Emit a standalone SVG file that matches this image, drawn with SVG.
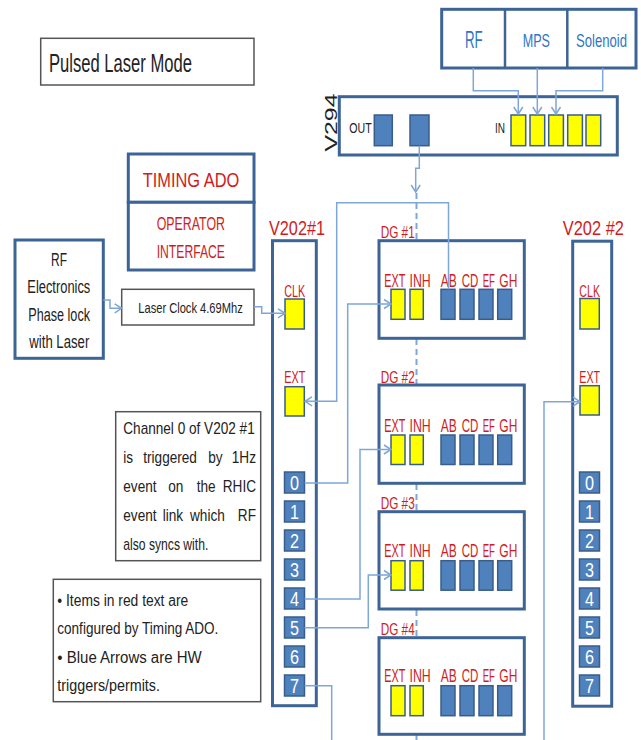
<svg xmlns="http://www.w3.org/2000/svg" width="641" height="740" viewBox="0 0 641 740">
<style>
.box{fill:#fff;stroke:#3d6496;stroke-width:3}
.nbox{fill:#fff;stroke:#555;stroke-width:1.5}
.blu{fill:#4f81bd;stroke:#385d8a;stroke-width:1.5}
.yel{fill:#ffff00;stroke:#385d8a;stroke-width:1.5}
.con{fill:none;stroke:#7ea6d8;stroke-width:1.5}
.dash{fill:none;stroke:#7ea6d8;stroke-width:2;stroke-dasharray:6 4}
text{font-family:"Liberation Sans",Arial,sans-serif}
.red{fill:#d01c1c}
.blk{fill:#222}
.bt{fill:#2e75c6}
.dig{fill:#fff;font-size:20px}
.lab{font-size:18px}
.cl{font-size:17px}
.dg{font-size:16px}
.nt{font-size:16px;fill:#222}
.e{text-anchor:end}
</style>
<defs>
<marker id="ah" markerUnits="userSpaceOnUse" markerWidth="12" markerHeight="12" viewBox="-10 -6 12 12" refX="0" refY="0" orient="auto">
<path d="M-7,-4.5 L0,0 L-7,4.5" fill="none" stroke="#7ea6d8" stroke-width="1.5"/>
</marker>
</defs>

<g id="title">
<rect x="40.7" y="38.3" width="213.3" height="46.7" class="nbox"/>
<text x="49" y="71.7" font-size="25" textLength="143" lengthAdjust="spacingAndGlyphs" class="blk">Pulsed Laser Mode</text>
</g>

<g id="sources">
<rect x="441.7" y="9.3" width="194.3" height="58.7" class="box"/>
<line x1="505" y1="9.3" x2="505" y2="68" stroke="#3d6496" stroke-width="2.5"/>
<line x1="567.3" y1="9.3" x2="567.3" y2="68" stroke="#3d6496" stroke-width="2.5"/>
<text x="465" y="48.3" font-size="23" textLength="17.7" lengthAdjust="spacingAndGlyphs" class="bt">RF</text>
<text x="522.7" y="46.7" font-size="18.5" textLength="27.3" lengthAdjust="spacingAndGlyphs" class="bt">MPS</text>
<text x="576" y="46.7" font-size="18.5" textLength="51" lengthAdjust="spacingAndGlyphs" class="bt">Solenoid</text>
</g>

<g id="v294">
<rect x="339.3" y="96.7" width="278" height="58.3" class="box"/>
<text transform="translate(336.7,122.5) rotate(-90)" text-anchor="middle" font-size="16.5" textLength="58" lengthAdjust="spacingAndGlyphs" class="blk">V294</text>
<text x="349.3" y="132.7" font-size="15" textLength="22.4" lengthAdjust="spacingAndGlyphs" class="blk">OUT</text>
<rect x="374.3" y="115" width="18" height="30.7" class="blu"/>
<rect x="410" y="115" width="19" height="30.7" class="blu"/>
<text x="495" y="132.7" font-size="15" textLength="10" lengthAdjust="spacingAndGlyphs" class="blk">IN</text>
<rect x="511" y="115" width="14.7" height="30.7" class="yel"/>
<rect x="530" y="115" width="14.7" height="30.7" class="yel"/>
<rect x="548.7" y="115" width="14.7" height="30.7" class="yel"/>
<rect x="567.7" y="115" width="14.7" height="30.7" class="yel"/>
<rect x="586" y="115" width="14.7" height="30.7" class="yel"/>
</g>

<g id="timing-ado">
<rect x="128.3" y="154" width="125.7" height="48.3" class="box"/>
<rect x="128.3" y="202.3" width="125.7" height="67.7" class="box"/>
<text x="142.7" y="186.7" font-size="21" textLength="96.6" lengthAdjust="spacingAndGlyphs" class="red">TIMING ADO</text>
<text x="156.7" y="230" font-size="18.5" textLength="68.3" lengthAdjust="spacingAndGlyphs" class="red">OPERATOR</text>
<text x="156.7" y="258.3" font-size="18.5" textLength="68.3" lengthAdjust="spacingAndGlyphs" class="red">INTERFACE</text>
</g>

<g id="rf-electronics">
<rect x="15" y="240" width="88.3" height="118.3" class="box"/>
<text x="51" y="266" font-size="17.5" textLength="16" lengthAdjust="spacingAndGlyphs" class="blk">RF</text>
<text x="27.3" y="293.3" font-size="17.5" textLength="63" lengthAdjust="spacingAndGlyphs" class="blk">Electronics</text>
<text x="28.3" y="321" font-size="17.5" textLength="61.7" lengthAdjust="spacingAndGlyphs" class="blk">Phase lock</text>
<text x="29.3" y="348.3" font-size="17.5" textLength="60" lengthAdjust="spacingAndGlyphs" class="blk">with Laser</text>
</g>

<g id="laser-clock">
<rect x="121.7" y="289.3" width="132.3" height="35.7" class="nbox"/>
<text x="138.3" y="313.3" font-size="14.5" textLength="104.4" lengthAdjust="spacingAndGlyphs" class="blk">Laser Clock 4.69Mhz</text>
</g>

<g id="v202-1">
<rect x="272.5" y="240.7" width="43.8" height="465" class="box"/>
<text x="269" y="235" font-size="21" textLength="56" lengthAdjust="spacingAndGlyphs" class="red">V202#1</text>
<text x="284.3" y="296.7" textLength="21" lengthAdjust="spacingAndGlyphs" class="red cl">CLK</text>
<rect x="285" y="299" width="19.3" height="30" class="yel"/>
<text x="284.3" y="383.3" textLength="21" lengthAdjust="spacingAndGlyphs" class="red cl">EXT</text>
<rect x="285" y="386.7" width="19.3" height="29.3" class="yel"/>
<rect x="284.5" y="472" width="20" height="21" class="blu"/>
<rect x="284.5" y="501" width="20" height="21" class="blu"/>
<rect x="284.5" y="530" width="20" height="21" class="blu"/>
<rect x="284.5" y="559" width="20" height="21" class="blu"/>
<rect x="284.5" y="588" width="20" height="21" class="blu"/>
<rect x="284.5" y="617" width="20" height="21" class="blu"/>
<rect x="284.5" y="646" width="20" height="21" class="blu"/>
<rect x="284.5" y="675" width="20" height="21" class="blu"/>
<text x="290" y="490" textLength="9" lengthAdjust="spacingAndGlyphs" class="dig">0</text>
<text x="290" y="519" textLength="9" lengthAdjust="spacingAndGlyphs" class="dig">1</text>
<text x="290" y="548" textLength="9" lengthAdjust="spacingAndGlyphs" class="dig">2</text>
<text x="290" y="577" textLength="9" lengthAdjust="spacingAndGlyphs" class="dig">3</text>
<text x="290" y="606" textLength="9" lengthAdjust="spacingAndGlyphs" class="dig">4</text>
<text x="290" y="635" textLength="9" lengthAdjust="spacingAndGlyphs" class="dig">5</text>
<text x="290" y="664" textLength="9" lengthAdjust="spacingAndGlyphs" class="dig">6</text>
<text x="290" y="693" textLength="9" lengthAdjust="spacingAndGlyphs" class="dig">7</text>
</g>

<g id="v202-2">
<rect x="572.7" y="241.2" width="39" height="465" class="box"/>
<text x="562.7" y="235" font-size="21" textLength="61.3" lengthAdjust="spacingAndGlyphs" class="red">V202 #2</text>
<text x="579.3" y="296.7" textLength="20.7" lengthAdjust="spacingAndGlyphs" class="red cl">CLK</text>
<rect x="580" y="298.5" width="19.3" height="30.5" class="yel"/>
<text x="579.3" y="383.3" textLength="20.7" lengthAdjust="spacingAndGlyphs" class="red cl">EXT</text>
<rect x="580" y="385.7" width="19.3" height="29.3" class="yel"/>
<rect x="579.5" y="472" width="20" height="21" class="blu"/>
<rect x="579.5" y="501" width="20" height="21" class="blu"/>
<rect x="579.5" y="530" width="20" height="21" class="blu"/>
<rect x="579.5" y="559" width="20" height="21" class="blu"/>
<rect x="579.5" y="588" width="20" height="21" class="blu"/>
<rect x="579.5" y="617" width="20" height="21" class="blu"/>
<rect x="579.5" y="646" width="20" height="21" class="blu"/>
<rect x="579.5" y="675" width="20" height="21" class="blu"/>
<text x="585" y="490" textLength="9" lengthAdjust="spacingAndGlyphs" class="dig">0</text>
<text x="585" y="519" textLength="9" lengthAdjust="spacingAndGlyphs" class="dig">1</text>
<text x="585" y="548" textLength="9" lengthAdjust="spacingAndGlyphs" class="dig">2</text>
<text x="585" y="577" textLength="9" lengthAdjust="spacingAndGlyphs" class="dig">3</text>
<text x="585" y="606" textLength="9" lengthAdjust="spacingAndGlyphs" class="dig">4</text>
<text x="585" y="635" textLength="9" lengthAdjust="spacingAndGlyphs" class="dig">5</text>
<text x="585" y="664" textLength="9" lengthAdjust="spacingAndGlyphs" class="dig">6</text>
<text x="585" y="693" textLength="9" lengthAdjust="spacingAndGlyphs" class="dig">7</text>
</g>

<g id="dg-spine">
<line x1="416.5" y1="193" x2="416.5" y2="240" class="dash"/>
<line x1="416.5" y1="339" x2="416.5" y2="384" class="dash"/>
<line x1="416.5" y1="484" x2="416.5" y2="511" class="dash"/>
<line x1="416.5" y1="610" x2="416.5" y2="637" class="dash"/>
<line x1="416.5" y1="735" x2="416.5" y2="740" class="dash"/>
</g>

<g id="dg1">
<text x="380.7" y="238" textLength="34" lengthAdjust="spacingAndGlyphs" class="red dg">DG #1</text>
<rect x="379" y="240.7" width="145.3" height="97.6" class="box"/>
<text x="384.3" y="286.7" textLength="21" lengthAdjust="spacingAndGlyphs" class="red lab">EXT</text>
<text x="409.5" y="286.7" textLength="21.2" lengthAdjust="spacingAndGlyphs" class="red lab">INH</text>
<text x="440.7" y="286.7" textLength="16" lengthAdjust="spacingAndGlyphs" class="red lab">AB</text>
<text x="461.7" y="286.7" textLength="16.6" lengthAdjust="spacingAndGlyphs" class="red lab">CD</text>
<text x="482.7" y="286.7" textLength="12.3" lengthAdjust="spacingAndGlyphs" class="red lab">EF</text>
<text x="499.3" y="286.7" textLength="18" lengthAdjust="spacingAndGlyphs" class="red lab">GH</text>
<rect x="391" y="289.3" width="14" height="30" class="yel"/>
<rect x="410" y="289.3" width="13.3" height="30" class="yel"/>
<rect x="441" y="289.3" width="14" height="30" class="blu"/>
<rect x="460" y="289.3" width="14" height="30" class="blu"/>
<rect x="479" y="289.3" width="14" height="30" class="blu"/>
<rect x="497.7" y="289.3" width="14" height="30" class="blu"/>
</g>

<g id="dg2">
<text x="380.7" y="383.3" textLength="34" lengthAdjust="spacingAndGlyphs" class="red dg">DG #2</text>
<rect x="379" y="385" width="145.3" height="98.3" class="box"/>
<text x="384.3" y="431.7" textLength="21" lengthAdjust="spacingAndGlyphs" class="red lab">EXT</text>
<text x="409.5" y="431.7" textLength="21.2" lengthAdjust="spacingAndGlyphs" class="red lab">INH</text>
<text x="440.7" y="431.7" textLength="16" lengthAdjust="spacingAndGlyphs" class="red lab">AB</text>
<text x="461.7" y="431.7" textLength="16.6" lengthAdjust="spacingAndGlyphs" class="red lab">CD</text>
<text x="482.7" y="431.7" textLength="12.3" lengthAdjust="spacingAndGlyphs" class="red lab">EF</text>
<text x="499.3" y="431.7" textLength="18" lengthAdjust="spacingAndGlyphs" class="red lab">GH</text>
<rect x="391" y="435" width="14" height="29.5" class="yel"/>
<rect x="410" y="435" width="13.3" height="29.5" class="yel"/>
<rect x="441" y="435" width="14" height="29.5" class="blu"/>
<rect x="460" y="435" width="14" height="29.5" class="blu"/>
<rect x="479" y="435" width="14" height="29.5" class="blu"/>
<rect x="497.7" y="435" width="14" height="29.5" class="blu"/>
</g>

<g id="dg3">
<text x="380.7" y="509" textLength="34" lengthAdjust="spacingAndGlyphs" class="red dg">DG #3</text>
<rect x="379" y="511.7" width="145.3" height="97.3" class="box"/>
<text x="384.3" y="556.7" textLength="21" lengthAdjust="spacingAndGlyphs" class="red lab">EXT</text>
<text x="409.5" y="556.7" textLength="21.2" lengthAdjust="spacingAndGlyphs" class="red lab">INH</text>
<text x="440.7" y="556.7" textLength="16" lengthAdjust="spacingAndGlyphs" class="red lab">AB</text>
<text x="461.7" y="556.7" textLength="16.6" lengthAdjust="spacingAndGlyphs" class="red lab">CD</text>
<text x="482.7" y="556.7" textLength="12.3" lengthAdjust="spacingAndGlyphs" class="red lab">EF</text>
<text x="499.3" y="556.7" textLength="18" lengthAdjust="spacingAndGlyphs" class="red lab">GH</text>
<rect x="391" y="560.7" width="14" height="29.5" class="yel"/>
<rect x="410" y="560.7" width="13.3" height="29.5" class="yel"/>
<rect x="441" y="560.7" width="14" height="29.5" class="blu"/>
<rect x="460" y="560.7" width="14" height="29.5" class="blu"/>
<rect x="479" y="560.7" width="14" height="29.5" class="blu"/>
<rect x="497.7" y="560.7" width="14" height="29.5" class="blu"/>
</g>

<g id="dg4">
<text x="380.7" y="635" textLength="34" lengthAdjust="spacingAndGlyphs" class="red dg">DG #4</text>
<rect x="379" y="637.7" width="145.3" height="96.6" class="box"/>
<text x="384.3" y="682.3" textLength="21" lengthAdjust="spacingAndGlyphs" class="red lab">EXT</text>
<text x="409.5" y="682.3" textLength="21.2" lengthAdjust="spacingAndGlyphs" class="red lab">INH</text>
<text x="440.7" y="682.3" textLength="16" lengthAdjust="spacingAndGlyphs" class="red lab">AB</text>
<text x="461.7" y="682.3" textLength="16.6" lengthAdjust="spacingAndGlyphs" class="red lab">CD</text>
<text x="482.7" y="682.3" textLength="12.3" lengthAdjust="spacingAndGlyphs" class="red lab">EF</text>
<text x="499.3" y="682.3" textLength="18" lengthAdjust="spacingAndGlyphs" class="red lab">GH</text>
<rect x="391" y="685.7" width="14" height="30" class="yel"/>
<rect x="410" y="685.7" width="13.3" height="30" class="yel"/>
<rect x="441" y="685.7" width="14" height="30" class="blu"/>
<rect x="460" y="685.7" width="14" height="30" class="blu"/>
<rect x="479" y="685.7" width="14" height="30" class="blu"/>
<rect x="497.7" y="685.7" width="14" height="30" class="blu"/>
</g>

<g id="note-channel0">
<rect x="115.7" y="411.7" width="145" height="149" class="nbox"/>
<g transform="translate(123.3 0) scale(0.85 1)">
<text y="434" class="nt" x="0">Channel 0 of V202 #1</text>
<text y="463.3" class="nt" x="0">is</text>
<text y="463.3" class="nt" x="23.5">triggered</text>
<text y="463.3" class="nt" x="100">by</text>
<text y="463.3" class="nt e" x="156.1">1Hz</text>
<text y="492" class="nt" x="0">event</text>
<text y="492" class="nt" x="52.9">on</text>
<text y="492" class="nt" x="86.4">the</text>
<text y="492" class="nt e" x="156.1">RHIC</text>
<text y="521.5" class="nt" x="0">event</text>
<text y="521.5" class="nt" x="46.4">link</text>
<text y="521.5" class="nt" x="78.5">which</text>
<text y="521.5" class="nt e" x="156.1">RF</text>
<text y="550" class="nt" x="0" textLength="100" lengthAdjust="spacingAndGlyphs">also syncs with.</text>
</g>
</g>

<g id="note-legend">
<rect x="53.3" y="579.3" width="207.4" height="122.4" class="nbox"/>
<text x="57.3" y="606" class="nt" textLength="131" lengthAdjust="spacingAndGlyphs">• Items in red text are</text>
<text x="57.3" y="634.3" class="nt" textLength="161" lengthAdjust="spacingAndGlyphs">configured by Timing ADO.</text>
<text x="57.3" y="662.7" class="nt" textLength="144.4" lengthAdjust="spacingAndGlyphs">• Blue Arrows are HW</text>
<text x="57.3" y="691" class="nt" textLength="102.7" lengthAdjust="spacingAndGlyphs">triggers/permits.</text>
</g>

<g id="connectors">
<path d="M473.3,68 V90.7 H518.3 V114" class="con" marker-end="url(#ah)"/>
<path d="M537.3,68 V114" class="con" marker-end="url(#ah)"/>
<path d="M602.7,68 V90.7 H556 V114" class="con" marker-end="url(#ah)"/>
<path d="M419.3,145.7 V168.3 H415.7 V192" class="con" marker-end="url(#ah)"/>
<path d="M103.3,300 H110 V308.3 H121.7" class="con" marker-end="url(#ah)"/>
<path d="M254,306.7 H261.7 V313.3 H285" class="con" marker-end="url(#ah)"/>
<path d="M448.5,289.3 V202.7 H336.7 V401.3 H305" class="con" marker-end="url(#ah)"/>
<path d="M304.5,483 H347.7 V304 H391" class="con" marker-end="url(#ah)"/>
<path d="M304.5,599 H360 V449.5 H391" class="con" marker-end="url(#ah)"/>
<path d="M304.5,627.7 H368.3 V575 H391" class="con" marker-end="url(#ah)"/>
<path d="M304.5,685.7 H331.7 V740" class="con"/>
<path d="M544,740 V401.7 H580" class="con" marker-end="url(#ah)"/>
</g>
</svg>
